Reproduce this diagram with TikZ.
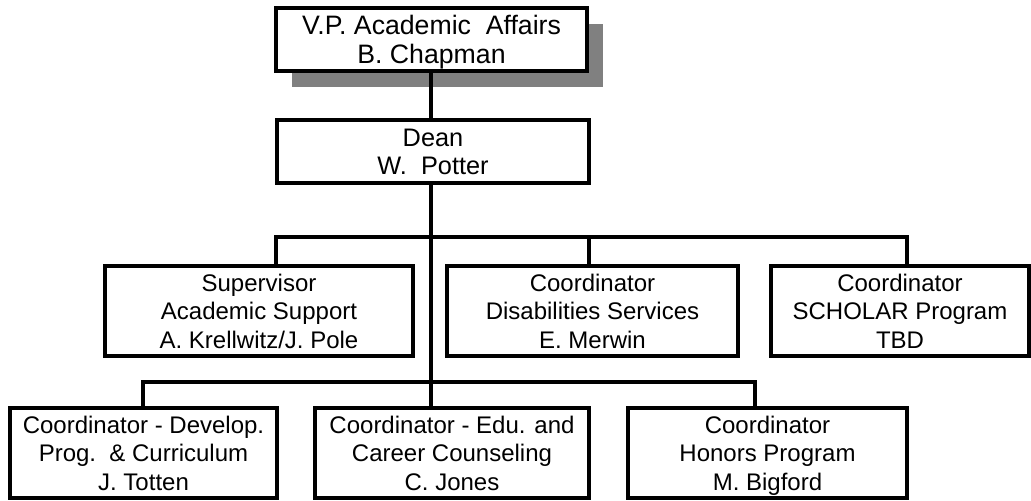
\documentclass[tikz,border=0pt]{standalone}
\usepackage{fontspec}
\setmainfont{Liberation Sans}
\begin{document}
\begin{tikzpicture}[x=0.75pt,y=-0.75pt,
  frame/.style={draw=black,line width=2.4pt,fill=white,inner sep=0pt,align=center},
  box/.style={frame,font=\fontsize{18}{21.5}\selectfont,text height=56pt,text depth=0pt,
    minimum height=90*0.75pt},
  vpbox/.style={frame,font=\fontsize{20}{22}\selectfont,text height=36.3pt,text depth=0pt,
    minimum height=63*0.75pt},
  deanbox/.style={frame,font=\fontsize{19}{21.5}\selectfont,text height=35.1pt,text depth=0pt,
    minimum height=63*0.75pt},
  conn/.style={draw=black,line width=2.4pt},
  shadowc/.style={fill=black!50}]
\useasboundingbox (0,0) rectangle (1031,500);
% shadow of top box
\fill[shadowc] (292,24) rectangle (603,87);
\node[vpbox,minimum width=311*0.75pt] (vp) at (431.5,39.5)
  {V.P. Academic\ \ Affairs\\B. Chapman};
\node[deanbox,minimum width=312*0.75pt] (dean) at (433,151.5)
  {Dean\\W.\ \ Potter};
\node[box,minimum width=308*0.75pt] (sup) at (259,311)
  {Supervisor\\Academic Support\\A. Krellwitz/J. Pole};
\node[box,minimum width=291*0.75pt] (dis) at (592.5,311)
  {Coordinator\\Disabilities Services\\E. Merwin};
\node[box,minimum width=258*0.75pt] (sch) at (900,311)
  {Coordinator\\SCHOLAR Program\\TBD};
\node[box,minimum width=267*0.75pt] (dev) at (143.5,453)
  {Coordinator - Develop.\\Prog.\ \ \& Curriculum\\J. Totten};
\node[box,minimum width=274*0.75pt] (edu) at (452,453)
  {Coordinator - Edu. and\\Career Counseling\\C. Jones};
\node[box,minimum width=279*0.75pt] (hon) at (767.5,453)
  {Coordinator\\Honors Program\\M. Bigford};
% connectors
\coordinate (tx) at (431,0);
\coordinate (b1w) at (276,237);
\coordinate (b1m) at (589,237);
\coordinate (b1e) at (907,237);
\coordinate (b2w) at (143,382);
\coordinate (b2e) at (755,382);
\draw[conn] (tx |- vp.south) -- (tx |- dean.north);
\draw[conn] (tx |- dean.south) -- (tx |- edu.north);
\draw[conn] (b1w |- sup.north) -- (b1w) -- (b1e) -- (b1e |- sch.north);
\draw[conn] (b1m) -- (b1m |- dis.north);
\draw[conn] (b2w |- dev.north) -- (b2w) -- (b2e) -- (b2e |- hon.north);
\end{tikzpicture}
\end{document}
